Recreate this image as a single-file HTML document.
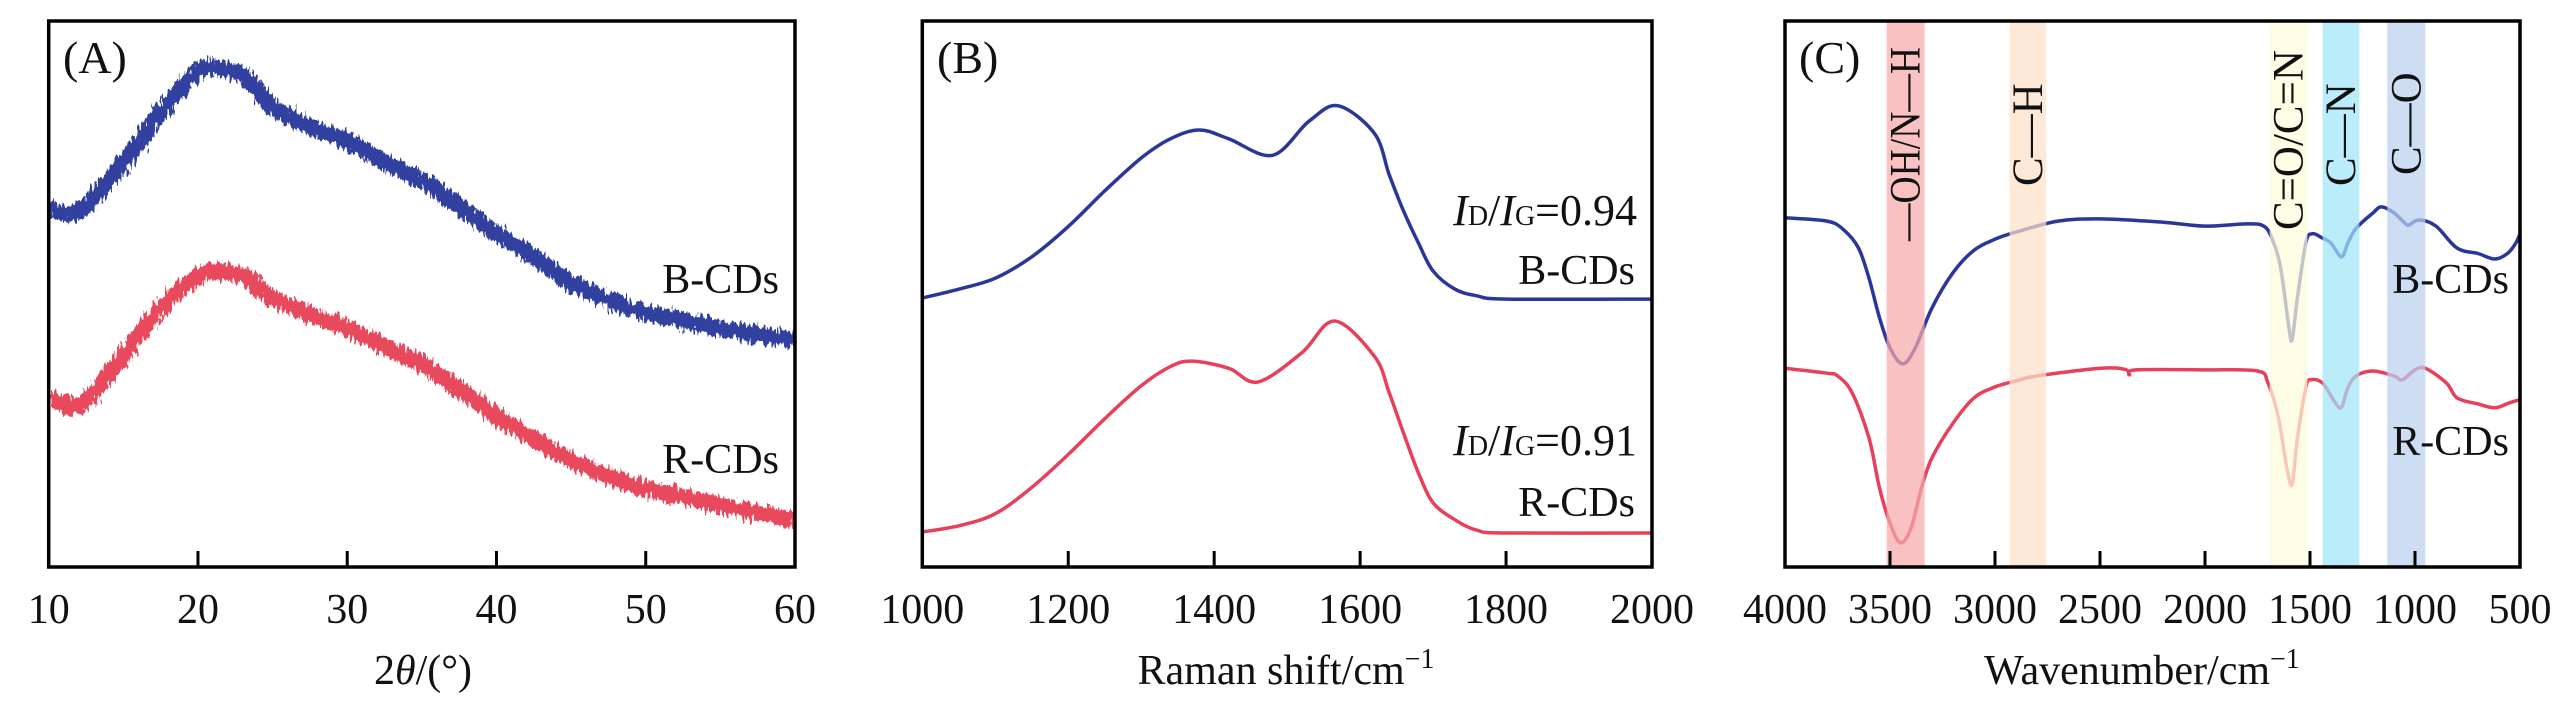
<!DOCTYPE html>
<html><head><meta charset="utf-8"><style>
html,body{margin:0;padding:0;background:#fff;}
svg{display:block;font-family:"Liberation Serif",serif;}
</style></head><body>
<svg id="fig" width="2567" height="709" viewBox="0 0 2567 709">
<defs>
<filter id="noisy" x="-5%" y="-20%" width="110%" height="140%">
<feTurbulence type="fractalNoise" baseFrequency="0.4 0.1" numOctaves="2" seed="3" result="t"/>
<feDisplacementMap in="SourceGraphic" in2="t" scale="16" xChannelSelector="R" yChannelSelector="G"/>
</filter>
</defs>
<g id="pA"></g>
<g id="pB"></g>
<g id="pC"></g>
</svg>
<script>
// ---- Panel A (XRD) data ----
const xrdX = [10,12,14,16,18,20,21,23,25,28,30,33,35,38,40,43,45,48,50,55,60];
const xrdB = [65.2,64.7,70.5,77.2,84.5,90.3,90.9,89.6,83.8,79.6,77.6,73,70.5,64.7,60.7,55.6,51.9,48.1,46.4,43.5,41.2];
const xrdR = [30.8,29.5,35,42,48.5,53,53.8,53,49,45.5,43.5,39.5,37,31.5,27.5,22.5,19.5,16,14.3,11.3,8.4];
const xrdTicks = [10,20,30,40,50,60];
// ---- Panel B (Raman) data ----
const ramX = [1000,1050,1100,1150,1200,1250,1300,1340,1380,1420,1480,1530,1570,1620,1640,1660,1680,1700,1730,1760,1800,2000];
const ramB = [49,50.6,52.6,56.5,62,68.5,74.5,78,79.6,78,75,81.2,84,78.9,71.4,64.7,59,53.9,50.6,49.4,48.8,48.8];
const ramRX = [1000,1050,1100,1150,1200,1250,1300,1340,1370,1420,1460,1520,1565,1620,1640,1660,1680,1700,1730,1760,1800,2000];
const ramR = [6.4,7.5,9.7,14.5,20.5,27,33,36.5,37.5,36.2,33.7,39,44.8,38.3,31.7,24.2,17.1,11.7,8.6,6.7,6.2,6.2];
const ramTicks = [1000,1200,1400,1600,1800,2000];
// ---- Panel C (FTIR) data ----
const irBX = [4000,3800,3720,3650,3600,3550,3500,3440,3380,3300,3200,3100,3000,2900,2700,2500,2200,2000,1800,1720,1680,1640,1600,1585,1560,1520,1490,1440,1400,1350,1320,1280,1200,1160,1100,1050,1030,980,900,800,700,620,560,520,500];
const irB = [63.6,63,61.4,58.1,52.6,45.4,39.9,37,39.9,47.2,53.6,57.7,59.7,61,63,63.4,62.8,62.1,62.5,62.1,59.7,54.5,43.5,41.5,49,59,60.7,59.9,59,56.5,59,61.7,64.5,65.6,64.5,62.7,62.3,63.2,62.1,58.1,57.1,56.1,57.1,59,60.7];
const irRX = [4000,3800,3750,3680,3600,3550,3500,3450,3400,3350,3300,3200,3100,3000,2900,2800,2500,2380,2360,2330,2000,1750,1700,1650,1610,1585,1560,1520,1500,1440,1380,1350,1320,1280,1200,1100,1060,1000,950,850,800,700,620,550,500];
const irR = [36.2,35.3,34.8,31.7,23.5,14.4,8,4.4,7.1,14.4,19.9,26.2,30.8,32.8,33.9,34.8,36.2,36,35,35.9,35.9,35.7,33.5,27.1,18,15.1,23.5,32.6,34.1,33.5,29.9,29.1,32.6,34.8,35.7,34.8,34.1,35.9,36.2,33.5,30.8,29.7,29,29.9,30.5];
const irTicks = [4000,3500,3000,2500,2000,1500,1000,500];
const bandLabels = ["\u2014OH/N\u2014H","C\u2014H","C=O/C=N","C\u2014N","C\u2014O"];
const bandLo = [3516,2931,1692,1440,1132];
const bandHi = [3335,2756,1512,1265,951];
const bandTextBottom = [241,186,230,186,175];
const bandColors = ["#f7a9a9","#fde0cb","#fffbdc","#9fe4f6","#b9d0f0"];

const NS="http://www.w3.org/2000/svg";
function mk(tag,attrs,parent){const e=document.createElementNS(NS,tag);for(const k in attrs)e.setAttribute(k,attrs[k]);parent.appendChild(e);return e;}
const TOP=21,BOT=567;
function yScale(v){return BOT-v*5.49;}
function linScale(d0,d1,r0,r1){return v=>r0+(v-d0)/(d1-d0)*(r1-r0);}
function smoothPath(xs,ys,sx){
  const p=xs.map((x,i)=>[sx(x),yScale(ys[i])]);
  let d="M"+p[0][0].toFixed(1)+","+p[0][1].toFixed(1);
  for(let i=0;i<p.length-1;i++){
    const p0=p[Math.max(0,i-1)],p1=p[i],p2=p[i+1],p3=p[Math.min(p.length-1,i+2)];
    const c1=[p1[0]+(p2[0]-p0[0])/6,p1[1]+(p2[1]-p0[1])/6];
    const c2=[p2[0]-(p3[0]-p1[0])/6,p2[1]-(p3[1]-p1[1])/6];
    d+=" C"+c1[0].toFixed(1)+","+c1[1].toFixed(1)+" "+c2[0].toFixed(1)+","+c2[1].toFixed(1)+" "+p2[0].toFixed(1)+","+p2[1].toFixed(1);
  }
  return d;
}
function frame(g,L,R,ticks,sx,title,titleX){
  const box=mk('rect',{x:L,y:TOP,width:R-L,height:BOT-TOP,fill:'none',stroke:'#000','stroke-width':3.5},g);
  
  
  ticks.forEach(t=>{
    const x=sx(t);
    if(x>L+2&&x<R-2){
      const tk=mk('line',{x1:x,x2:x,y1:BOT,y2:BOT-16,stroke:'#000','stroke-width':3},g);
      
      
    }
    const tl=mk('text',{x:x,y:623,'font-size':42,'text-anchor':'middle',fill:'#111'},g);
    tl.textContent=t;
    
    
  });
  const tt=mk('text',{x:titleX,y:684,'font-size':42,'text-anchor':'middle',fill:'#111'},g);
  
  
  tt.innerHTML=title;
}
function txt(g,s,x,y,anchor,name,size){
  const t=mk('text',{x:x,y:y,'font-size':size||42,'text-anchor':anchor,fill:'#111'},g);
  t.innerHTML=s;
  
  
  return t;
}
// Panel A
(function(){
  const g=document.getElementById('pA');const L=48.7,R=795;
  const sx=linScale(10,60,L,R);
  const pb=mk('path',{d:smoothPath(xrdX,xrdB,sx),fill:'none',stroke:'#3040a0','stroke-width':16,filter:'url(#noisy)'},g);
  
  
  const pr=mk('path',{d:smoothPath(xrdX,xrdR,sx),fill:'none',stroke:'#e84a5c','stroke-width':16,filter:'url(#noisy)'},g);
  
  
  const cover=mk('rect',{x:0,y:0,width:L-1.7,height:709,fill:'#fff'},g);
  
  
  const cover2=mk('rect',{x:R+1.7,y:0,width:60,height:709,fill:'#fff'},g);
  
  
  frame(g,L,R,xrdTicks,sx,'2<tspan font-style="italic">θ</tspan>/(°)',423);
  txt(g,'(A)',63,73,'start','panel-label-a',46);
  txt(g,'B-CDs',779,293,'end','label-b-cds');
  txt(g,'R-CDs',779,473,'end','label-r-cds');
})();
// Panel B
(function(){
  const g=document.getElementById('pB');const L=922.3,R=1652;
  const sx=linScale(1000,2000,L,R);
  const pb=mk('path',{d:smoothPath(ramX,ramB,sx),fill:'none',stroke:'#2a369a','stroke-width':3.5},g);
  
  
  const pr=mk('path',{d:smoothPath(ramRX,ramR,sx),fill:'none',stroke:'#e6405a','stroke-width':3.5},g);
  
  
  frame(g,L,R,ramTicks,sx,'Raman shift/cm<tspan font-size="28" dy="-16">\u22121</tspan>',1286);
  txt(g,'(B)',937,73,'start','panel-label-b',46);
  txt(g,'<tspan font-style="italic">I</tspan><tspan font-size="28">D</tspan>/<tspan font-style="italic">I</tspan><tspan font-size="28">G</tspan>=0.94',1637,225,'end','ratio-b-cds',44);
  txt(g,'B-CDs',1635,284,'end','label-b-cds');
  txt(g,'<tspan font-style="italic">I</tspan><tspan font-size="28">D</tspan>/<tspan font-style="italic">I</tspan><tspan font-size="28">G</tspan>=0.91',1637,455,'end','ratio-r-cds',44);
  txt(g,'R-CDs',1635,516,'end','label-r-cds');
})();
// Panel C
(function(){
  const g=document.getElementById('pC');const L=1785,R=2520;
  const sx=linScale(4000,500,L,R);
  const pb=mk('path',{d:smoothPath(irBX,irB,sx),fill:'none',stroke:'#2a369a','stroke-width':3.5},g);
  
  
  const pr=mk('path',{d:smoothPath(irRX,irR,sx),fill:'none',stroke:'#e6405a','stroke-width':3.5},g);
  
  
  bandLo.forEach((lo,i)=>{
    const x0=sx(lo),x1=sx(bandHi[i]);
    const b=mk('rect',{x:x0,y:TOP,width:x1-x0,height:BOT-TOP,fill:bandColors[i],opacity:0.72},g);
    
    
    const cx=(x0+x1)/2+14,by=bandTextBottom[i];
    const attrs={x:cx,y:by,'font-size':43,'text-anchor':'start',fill:'#111',transform:'rotate(-90 '+cx+' '+by+')'};
    if(i===0){attrs.textLength=194;attrs.lengthAdjust='spacingAndGlyphs';}
    const t=mk('text',attrs,g);
    t.textContent=bandLabels[i];
    
    
  });
  frame(g,L,R,irTicks,sx,'Wavenumber/cm<tspan font-size="28" dy="-16">\u22121</tspan>',2142);
  txt(g,'(C)',1799,73,'start','panel-label-c',46);
  txt(g,'B-CDs',2509,293,'end','label-b-cds');
  txt(g,'R-CDs',2509,455,'end','label-r-cds');
})();
</script>
</body></html>
